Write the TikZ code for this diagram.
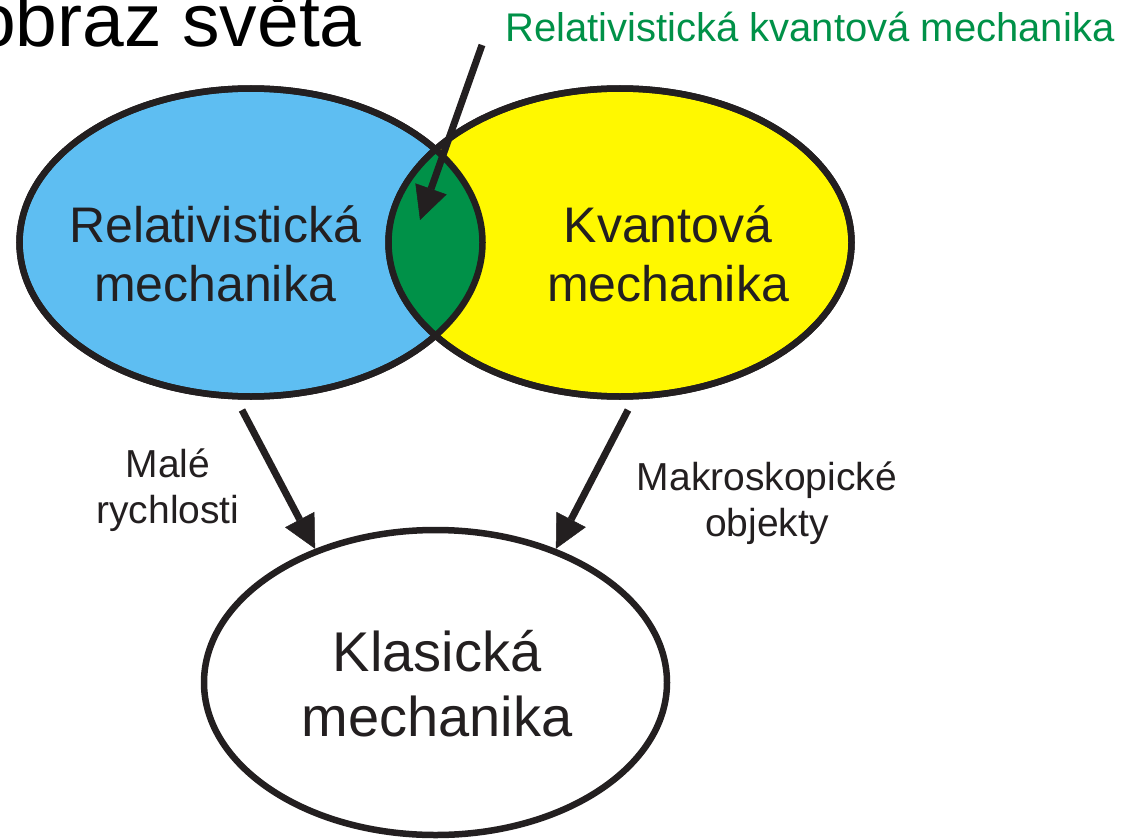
\documentclass[tikz,border=0pt]{standalone}
\usepackage{fontspec}
\setmainfont{Liberation Sans}
\usetikzlibrary{shapes.geometric,arrows.meta}
\definecolor{inkdark}{RGB}{35,31,32}
\definecolor{relblue}{RGB}{94,190,242}
\definecolor{kvantyellow}{RGB}{255,248,0}
\definecolor{lensgreen}{RGB}{0,145,72}

\begin{document}
\begin{tikzpicture}[
  x=1pt, y=-1pt,
  every node/.style = {inner sep=0pt, text=inkdark, align=center},
  region/.style = {shape=ellipse, draw=inkdark, line width=6.5pt,
                   minimum width=463pt, minimum height=308pt},
  outline/.style = {draw=inkdark, line width=6.5pt},
  pointer/.style = {-{Triangle[length=33pt,width=33pt,line width=0.5pt]},
                    draw=inkdark, line width=7pt},
  bigtext/.style = {font=\fontsize{50}{59}\selectfont},
  smalltext/.style = {font=\fontsize{39}{45.5}\selectfont}
]
  \useasboundingbox (0,0) rectangle (1124,840);

  \node[region, fill=relblue] (rel) at (251,242.5) {};
  \node[region, fill=kvantyellow] (kvant) at (620,242.5) {};
  \node[region, fill=white, minimum height=305pt] (klas) at (435.5,682.5) {};

  % overlap of both regions
  \begin{scope}
    \clip (rel.center) ellipse [x radius=231.5pt, y radius=154pt];
    \fill[lensgreen] (kvant.center) ellipse [x radius=231.5pt, y radius=154pt];
  \end{scope}
  \draw[outline] (rel.center) ellipse [x radius=231.5pt, y radius=154pt];
  \draw[outline] (kvant.center) ellipse [x radius=231.5pt, y radius=154pt];

  \node[bigtext] (reltext) at (215,254) {Relativistická\\mechanika};
  \node[bigtext] (kvanttext) at (668,254) {Kvantová\\mechanika};
  \node[font=\fontsize{56}{65}\selectfont] (klastext) at (437,684) {Klasická\\mechanika};

  \node[smalltext] (malelbl) at (168,490) {Malé\\rychlosti};
  \node[smalltext] (makrolbl) at (767,503) {Makroskopické\\objekty};

  \node[font=\fontsize{40}{48}\selectfont, text=lensgreen, anchor=base west]
    (rkmlbl) at (505,42) {Relativistická kvantová mechanika};
  \node[font=\fontsize{75}{90}\selectfont, text=black, anchor=base east]
    (title) at (362,47) {obraz světa};

  \coordinate (relfoot) at (242,410);
  \coordinate (kvantfoot) at (628,410);
  \coordinate (rkmfoot) at (482,45);
  \coordinate (lenstip) at (420,220);

  \draw[pointer] (relfoot) -- (klas.132);
  \draw[pointer] (kvantfoot) -- (klas.48);
  \draw[pointer] (rkmfoot) -- (lenstip);
\end{tikzpicture}
\end{document}
